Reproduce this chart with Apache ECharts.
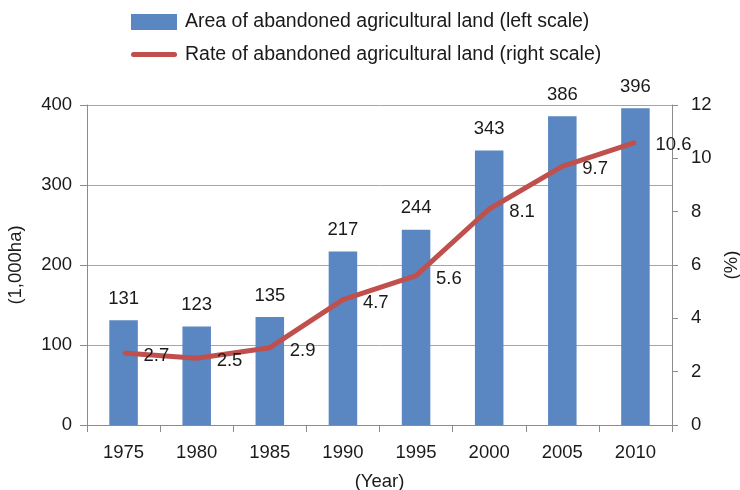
<!DOCTYPE html>
<html>
<head>
<meta charset="utf-8">
<script src="https://cdn.jsdelivr.net/npm/echarts@6/dist/echarts.min.js"></script>
<style>
html,body{margin:0;padding:0;background:#fff;}
#c{width:740px;height:490px;}
</style>
</head>
<body>
<div id="c"></div>
<script>
const years = ['1975','1980','1985','1990','1995','2000','2005','2010'];
const areaValues = [131, 123, 135, 217, 244, 343, 386, 396];
const rateValues = [2.7, 2.5, 2.9, 4.7, 5.6, 8.1, 9.7, 10.6];
const areaName = 'Area of abandoned agricultural land (left scale)';
const rateName = 'Rate of abandoned agricultural land (right scale)';

const FONT = 'Liberation Sans';
const TXT = '#1a1a1a';
const FS = 18.5;

const chart = echarts.init(document.getElementById('c'), null, {renderer: 'canvas'});
chart.setOption({
  animation: false,
  backgroundColor: '#ffffff',
  textStyle: {fontFamily: FONT, color: TXT},
  legend: {
    orient: 'vertical',
    left: 131,
    top: 12,
    padding: 0,
    itemWidth: 46,
    itemHeight: 16,
    itemGap: 12.5,
    textStyle: {fontFamily: FONT, fontSize: 19.5, color: TXT, padding: [0, 0, 0, 3]},
    data: [
      {name: areaName, icon: 'rect'},
      {name: rateName, icon: 'path://M2.5,0 L43.5,0 A2.5,2.5 0 0 1 43.5,5 L2.5,5 A2.5,2.5 0 0 1 2.5,0 Z'}
    ]
  },
  grid: {left: 87, right: 68, top: 105, bottom: 65, containLabel: false, outerBoundsMode: 'none'},
  xAxis: {
    type: 'category',
    data: years,
    boundaryGap: true,
    axisLine: {lineStyle: {color: '#8c8c8c', width: 1}},
    axisTick: {show: true, length: 7, lineStyle: {color: '#8c8c8c'}},
    axisLabel: {margin: 18, fontSize: FS, color: TXT, fontFamily: FONT},
    name: '(Year)',
    nameLocation: 'middle',
    nameGap: 47,
    nameTextStyle: {fontSize: FS, color: TXT, fontFamily: FONT}
  },
  yAxis: [
    {
      type: 'value',
      min: 0, max: 400, interval: 100,
      axisLine: {show: true, lineStyle: {color: '#8c8c8c', width: 1}},
      axisTick: {show: true, length: 7, lineStyle: {color: '#8c8c8c'}},
      splitLine: {show: true, lineStyle: {color: '#a6a6a6', width: 1}},
      axisLabel: {margin: 15, fontSize: FS, color: TXT, fontFamily: FONT},
      name: '(1,000ha)',
      nameLocation: 'middle',
      nameRotate: 90,
      nameGap: 62,
      nameTextStyle: {fontSize: FS, color: TXT, fontFamily: FONT}
    },
    {
      type: 'value',
      min: 0, max: 12, interval: 2,
      axisLine: {show: true, lineStyle: {color: '#8c8c8c', width: 1}},
      axisTick: {show: true, length: 6, lineStyle: {color: '#8c8c8c'}},
      splitLine: {show: false},
      axisLabel: {margin: 19, fontSize: FS, color: TXT, fontFamily: FONT},
      name: '(%)',
      nameLocation: 'middle',
      nameRotate: 90,
      nameGap: 45,
      nameTextStyle: {fontSize: FS, color: TXT, fontFamily: FONT}
    }
  ],
  series: [
    {
      name: areaName,
      type: 'bar',
      data: areaValues,
      barWidth: '39%',
      itemStyle: {color: '#5a86c2'},
      label: {show: true, position: 'top', distance: 12, fontSize: FS, color: TXT, fontFamily: FONT}
    },
    {
      name: rateName,
      type: 'line',
      yAxisIndex: 1,
      data: rateValues,
      symbol: 'circle',
      symbolSize: 2,
      showSymbol: true,
      itemStyle: {color: '#c0504d'},
      lineStyle: {color: '#c0504d', width: 5},
      label: {show: true, position: 'right', distance: 19, offset: [0, 3], fontSize: FS, color: TXT, fontFamily: FONT}
    }
  ]
});
</script>
</body>
</html>
